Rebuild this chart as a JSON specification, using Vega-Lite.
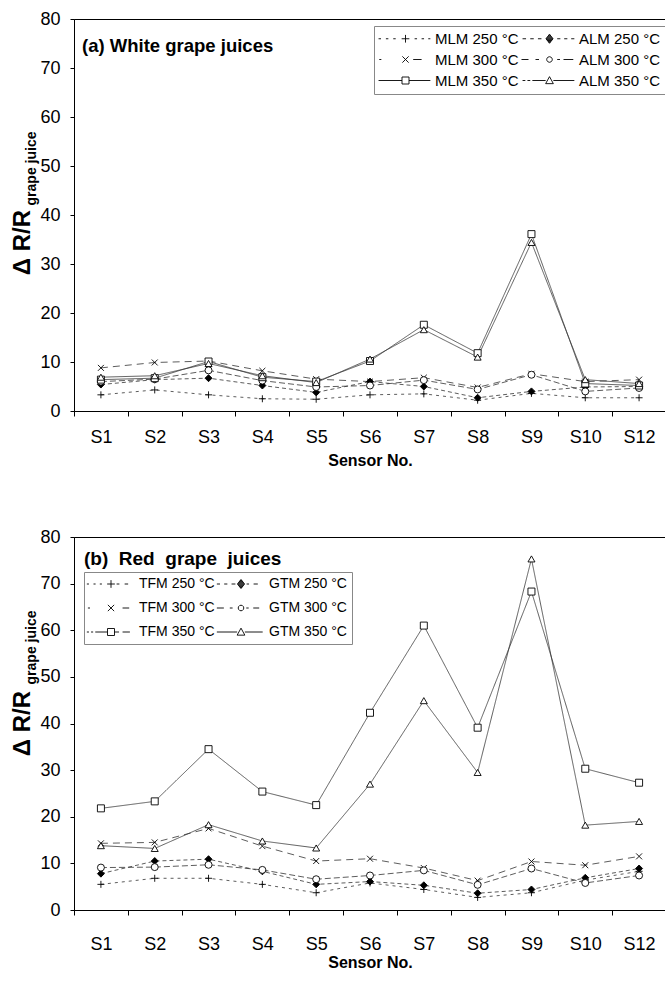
{
  "$schema": "https://vega.github.io/schema/vega-lite/v6.json",
  "padding": {"left": 9, "top": 9, "right": 0, "bottom": 0},
  "spacing": 58,
  "config": {
    "font": "Liberation Sans",
    "view": {"stroke": "black", "strokeWidth": 1},
    "axis": {"grid": false, "domainColor": "black", "tickColor": "black", "labelColor": "black", "titleColor": "black", "labelFont": "Liberation Sans", "titleFont": "Liberation Sans"}
  },
  "datasets": {
    "white": [
      {"sensor": "S1", "series": "MLM 250 °C", "value": 3.3}, {"sensor": "S2", "series": "MLM 250 °C", "value": 4.3}, {"sensor": "S3", "series": "MLM 250 °C", "value": 3.3}, {"sensor": "S4", "series": "MLM 250 °C", "value": 2.5}, {"sensor": "S5", "series": "MLM 250 °C", "value": 2.4}, {"sensor": "S6", "series": "MLM 250 °C", "value": 3.3}, {"sensor": "S7", "series": "MLM 250 °C", "value": 3.5}, {"sensor": "S8", "series": "MLM 250 °C", "value": 2.2}, {"sensor": "S9", "series": "MLM 250 °C", "value": 3.6}, {"sensor": "S10", "series": "MLM 250 °C", "value": 2.7}, {"sensor": "S12", "series": "MLM 250 °C", "value": 2.7},
      {"sensor": "S1", "series": "ALM 250 °C", "value": 5.4}, {"sensor": "S2", "series": "ALM 250 °C", "value": 6.4}, {"sensor": "S3", "series": "ALM 250 °C", "value": 6.7}, {"sensor": "S4", "series": "ALM 250 °C", "value": 5.2}, {"sensor": "S5", "series": "ALM 250 °C", "value": 3.8}, {"sensor": "S6", "series": "ALM 250 °C", "value": 6.0}, {"sensor": "S7", "series": "ALM 250 °C", "value": 5.0}, {"sensor": "S8", "series": "ALM 250 °C", "value": 2.7}, {"sensor": "S9", "series": "ALM 250 °C", "value": 4.0}, {"sensor": "S10", "series": "ALM 250 °C", "value": 4.9}, {"sensor": "S12", "series": "ALM 250 °C", "value": 5.0},
      {"sensor": "S1", "series": "MLM 300 °C", "value": 8.8}, {"sensor": "S2", "series": "MLM 300 °C", "value": 9.9}, {"sensor": "S3", "series": "MLM 300 °C", "value": 10.2}, {"sensor": "S4", "series": "MLM 300 °C", "value": 8.2}, {"sensor": "S5", "series": "MLM 300 °C", "value": 6.5}, {"sensor": "S6", "series": "MLM 300 °C", "value": 6.0}, {"sensor": "S7", "series": "MLM 300 °C", "value": 6.8}, {"sensor": "S8", "series": "MLM 300 °C", "value": 4.8}, {"sensor": "S9", "series": "MLM 300 °C", "value": 7.6}, {"sensor": "S10", "series": "MLM 300 °C", "value": 6.0}, {"sensor": "S12", "series": "MLM 300 °C", "value": 6.4},
      {"sensor": "S1", "series": "ALM 300 °C", "value": 6.0}, {"sensor": "S2", "series": "ALM 300 °C", "value": 6.5}, {"sensor": "S3", "series": "ALM 300 °C", "value": 8.3}, {"sensor": "S4", "series": "ALM 300 °C", "value": 6.2}, {"sensor": "S5", "series": "ALM 300 °C", "value": 4.9}, {"sensor": "S6", "series": "ALM 300 °C", "value": 5.2}, {"sensor": "S7", "series": "ALM 300 °C", "value": 6.3}, {"sensor": "S8", "series": "ALM 300 °C", "value": 4.4}, {"sensor": "S9", "series": "ALM 300 °C", "value": 7.4}, {"sensor": "S10", "series": "ALM 300 °C", "value": 4.0}, {"sensor": "S12", "series": "ALM 300 °C", "value": 4.7},
      {"sensor": "S1", "series": "MLM 350 °C", "value": 6.4}, {"sensor": "S2", "series": "MLM 350 °C", "value": 6.7}, {"sensor": "S3", "series": "MLM 350 °C", "value": 10.1}, {"sensor": "S4", "series": "MLM 350 °C", "value": 6.9}, {"sensor": "S5", "series": "MLM 350 °C", "value": 6.0}, {"sensor": "S6", "series": "MLM 350 °C", "value": 10.2}, {"sensor": "S7", "series": "MLM 350 °C", "value": 17.6}, {"sensor": "S8", "series": "MLM 350 °C", "value": 11.8}, {"sensor": "S9", "series": "MLM 350 °C", "value": 36.1}, {"sensor": "S10", "series": "MLM 350 °C", "value": 5.6}, {"sensor": "S12", "series": "MLM 350 °C", "value": 5.2},
      {"sensor": "S1", "series": "ALM 350 °C", "value": 6.9}, {"sensor": "S2", "series": "ALM 350 °C", "value": 7.2}, {"sensor": "S3", "series": "ALM 350 °C", "value": 9.7}, {"sensor": "S4", "series": "ALM 350 °C", "value": 7.2}, {"sensor": "S5", "series": "ALM 350 °C", "value": 5.8}, {"sensor": "S6", "series": "ALM 350 °C", "value": 10.6}, {"sensor": "S7", "series": "ALM 350 °C", "value": 16.6}, {"sensor": "S8", "series": "ALM 350 °C", "value": 11.0}, {"sensor": "S9", "series": "ALM 350 °C", "value": 34.4}, {"sensor": "S10", "series": "ALM 350 °C", "value": 6.4}, {"sensor": "S12", "series": "ALM 350 °C", "value": 5.6}
    ],
    "red": [
      {"sensor": "S1", "series": "TFM 250 °C", "value": 5.5}, {"sensor": "S2", "series": "TFM 250 °C", "value": 6.8}, {"sensor": "S3", "series": "TFM 250 °C", "value": 6.8}, {"sensor": "S4", "series": "TFM 250 °C", "value": 5.5}, {"sensor": "S5", "series": "TFM 250 °C", "value": 3.7}, {"sensor": "S6", "series": "TFM 250 °C", "value": 5.8}, {"sensor": "S7", "series": "TFM 250 °C", "value": 4.4}, {"sensor": "S8", "series": "TFM 250 °C", "value": 2.7}, {"sensor": "S9", "series": "TFM 250 °C", "value": 3.7}, {"sensor": "S10", "series": "TFM 250 °C", "value": 6.4}, {"sensor": "S12", "series": "TFM 250 °C", "value": 8.3},
      {"sensor": "S1", "series": "GTM 250 °C", "value": 7.8}, {"sensor": "S2", "series": "GTM 250 °C", "value": 10.5}, {"sensor": "S3", "series": "GTM 250 °C", "value": 10.9}, {"sensor": "S4", "series": "GTM 250 °C", "value": 8.3}, {"sensor": "S5", "series": "GTM 250 °C", "value": 5.5}, {"sensor": "S6", "series": "GTM 250 °C", "value": 6.1}, {"sensor": "S7", "series": "GTM 250 °C", "value": 5.3}, {"sensor": "S8", "series": "GTM 250 °C", "value": 3.6}, {"sensor": "S9", "series": "GTM 250 °C", "value": 4.4}, {"sensor": "S10", "series": "GTM 250 °C", "value": 6.9}, {"sensor": "S12", "series": "GTM 250 °C", "value": 8.9},
      {"sensor": "S1", "series": "TFM 300 °C", "value": 14.3}, {"sensor": "S2", "series": "TFM 300 °C", "value": 14.5}, {"sensor": "S3", "series": "TFM 300 °C", "value": 17.5}, {"sensor": "S4", "series": "TFM 300 °C", "value": 13.7}, {"sensor": "S5", "series": "TFM 300 °C", "value": 10.5}, {"sensor": "S6", "series": "TFM 300 °C", "value": 11.0}, {"sensor": "S7", "series": "TFM 300 °C", "value": 9.0}, {"sensor": "S8", "series": "TFM 300 °C", "value": 6.3}, {"sensor": "S9", "series": "TFM 300 °C", "value": 10.4}, {"sensor": "S10", "series": "TFM 300 °C", "value": 9.6}, {"sensor": "S12", "series": "TFM 300 °C", "value": 11.5},
      {"sensor": "S1", "series": "GTM 300 °C", "value": 9.1}, {"sensor": "S2", "series": "GTM 300 °C", "value": 9.2}, {"sensor": "S3", "series": "GTM 300 °C", "value": 9.7}, {"sensor": "S4", "series": "GTM 300 °C", "value": 8.6}, {"sensor": "S5", "series": "GTM 300 °C", "value": 6.6}, {"sensor": "S6", "series": "GTM 300 °C", "value": 7.4}, {"sensor": "S7", "series": "GTM 300 °C", "value": 8.5}, {"sensor": "S8", "series": "GTM 300 °C", "value": 5.4}, {"sensor": "S9", "series": "GTM 300 °C", "value": 8.9}, {"sensor": "S10", "series": "GTM 300 °C", "value": 5.8}, {"sensor": "S12", "series": "GTM 300 °C", "value": 7.4},
      {"sensor": "S1", "series": "TFM 350 °C", "value": 21.8}, {"sensor": "S2", "series": "TFM 350 °C", "value": 23.3}, {"sensor": "S3", "series": "TFM 350 °C", "value": 34.5}, {"sensor": "S4", "series": "TFM 350 °C", "value": 25.4}, {"sensor": "S5", "series": "TFM 350 °C", "value": 22.5}, {"sensor": "S6", "series": "TFM 350 °C", "value": 42.3}, {"sensor": "S7", "series": "TFM 350 °C", "value": 61.0}, {"sensor": "S8", "series": "TFM 350 °C", "value": 39.1}, {"sensor": "S9", "series": "TFM 350 °C", "value": 68.3}, {"sensor": "S10", "series": "TFM 350 °C", "value": 30.3}, {"sensor": "S12", "series": "TFM 350 °C", "value": 27.3},
      {"sensor": "S1", "series": "GTM 350 °C", "value": 13.8}, {"sensor": "S2", "series": "GTM 350 °C", "value": 13.2}, {"sensor": "S3", "series": "GTM 350 °C", "value": 18.3}, {"sensor": "S4", "series": "GTM 350 °C", "value": 14.8}, {"sensor": "S5", "series": "GTM 350 °C", "value": 13.3}, {"sensor": "S6", "series": "GTM 350 °C", "value": 27.0}, {"sensor": "S7", "series": "GTM 350 °C", "value": 44.9}, {"sensor": "S8", "series": "GTM 350 °C", "value": 29.5}, {"sensor": "S9", "series": "GTM 350 °C", "value": 75.3}, {"sensor": "S10", "series": "GTM 350 °C", "value": 18.2}, {"sensor": "S12", "series": "GTM 350 °C", "value": 19.0}
    ]
  },
  "vconcat": [
    {
      "width": 592, "height": 392,
      "data": {"name": "white"},
      "title": {"text": "(a) White grape juices", "anchor": "start", "frame": "group", "offset": -45, "dx": 8, "fontSize": 18.5, "fontWeight": "bold", "font": "Liberation Sans", "color": "black"},
      "resolve": {"scale": {"shape": "independent"}, "axis": {"y": "independent"}},
      "layer": [
        {
          "mark": {"type": "line", "stroke": "#333", "strokeWidth": 0.8},
          "encoding": {
            "x": {"field": "sensor", "type": "nominal", "sort": ["S1","S2","S3","S4","S5","S6","S7","S8","S9","S10","S12"], "scale": {"type": "band", "paddingInner": 0, "paddingOuter": 0},
                  "axis": {"title": "Sensor No.", "titleFontSize": 16, "titleFontWeight": "bold", "labelFontSize": 18, "labelAngle": 0, "tickBand": "extent", "tickSize": 5, "labelPadding": 12, "titlePadding": 6}},
            "y": {"field": "value", "type": "quantitative", "scale": {"domain": [0, 80], "nice": false},
                  "axis": {"title": "Δ R/R", "titleFontSize": 24, "titleFontWeight": "bold", "titleX": -52, "titleY": 223, "titleAlign": "center", "titleBaseline": "middle", "values": [0,10,20,30,40,50,60,70,80], "labelFontSize": 18, "tickSize": 4, "labelPadding": 10}},
            "strokeDash": {"field": "series", "type": "nominal", "scale": {"domain": ["MLM 250 °C","ALM 250 °C","MLM 300 °C","ALM 300 °C","MLM 350 °C","ALM 350 °C"], "range": [[3,4],[4,3],[7,5],[6,3],[1,0],[1,0]]}, "legend": null}
          }
        },
        {
          "mark": {"type": "point", "stroke": "black", "strokeWidth": 0.9, "size": 49, "opacity": 1},
          "encoding": {
            "x": {"field": "sensor", "type": "nominal", "sort": ["S1","S2","S3","S4","S5","S6","S7","S8","S9","S10","S12"],
                  "axis": {"title": "Sensor No.", "titleFontSize": 16, "titleFontWeight": "bold", "labelFontSize": 18, "labelAngle": 0, "tickBand": "extent", "tickSize": 5, "labelPadding": 12, "titlePadding": 6}},
            "y": {"field": "value", "type": "quantitative", "axis": {"orient": "left", "title": "grape juice", "titleFontSize": 14, "titleFontWeight": "bold", "titleX": -43, "titleY": 149, "titleAlign": "center", "titleBaseline": "middle", "labels": false, "ticks": false, "domain": false}},
            "shape": {"field": "series", "type": "nominal", "scale": {"domain": ["MLM 250 °C","ALM 250 °C","MLM 300 °C","ALM 300 °C","MLM 350 °C","ALM 350 °C"], "range": ["M-1,0H1M0,-1V1","diamond","M-0.85,-0.85L0.85,0.85M-0.85,0.85L0.85,-0.85","circle","square","triangle-up"]}, "legend": null},
            "fill": {"field": "series", "type": "nominal", "scale": {"domain": ["MLM 250 °C","ALM 250 °C","MLM 300 °C","ALM 300 °C","MLM 350 °C","ALM 350 °C"], "range": ["white","black","white","white","white","white"]}, "legend": null}
          }
        },
        {
          "mark": {"type": "point", "opacity": 0, "size": 49},
          "encoding": {
            "shape": {"field": "series", "type": "nominal",
              "scale": {"domain": ["MLM 250 °C","ALM 250 °C","MLM 300 °C","ALM 300 °C","MLM 350 °C","ALM 350 °C"],
                "range": [
                  "M-7.7,0H-7M-5.6,0H-4.9M-3.5,0H-2.8M-1.1,0H1.1M0,-1.1V1.1M2.6,0H3.3M4.6,0H5.3M6.5,0H7.1",
                  "M-7.7,0H-6.7M-5.5,0H-4.5M-3.3,0H-2.3M0,-1.3L1,0L0,1.3L-1,0ZM-1,0H1M-0.81,-0.25H0.81M-0.81,0.25H0.81M-0.62,-0.5H0.62M-0.62,0.5H0.62M-0.42,-0.75H0.42M-0.42,0.75H0.42M-0.23,-1H0.23M-0.23,1H0.23M2.2,0H3.1M4.2,0H5.1M6.2,0H7.1",
                  "M-7.5,0H-6.9M-0.9,-0.9L0.9,0.9M-0.9,0.9L0.9,-0.9M2.2,0H4.6",
                  "M-8,0H-6M-4,0H-3M0.8,0L0.69,0.4M0.69,0.4L0.4,0.69M0.4,0.69L0,0.8M0,0.8L-0.4,0.69M-0.4,0.69L-0.69,0.4M-0.69,0.4L-0.8,0M-0.8,0L-0.69,-0.4M-0.69,-0.4L-0.4,-0.69M-0.4,-0.69L0,-0.8M0,-0.8L0.4,-0.69M0.4,-0.69L0.69,-0.4M0.69,-0.4L0.8,0M2.2,0H3M4,0H6.8",
                  "M-7.7,0H-1M1,0H7.1M-1,-1L1,-1M1,-1L1,1M1,1L-1,1M-1,1L-1,-1",
                  "M-7.7,0H-6.9M-6.3,0H-5.5M-4.9,0H-1.1M1.1,0H7.1M0,-1.1L1.1,0.9M1.1,0.9L-1.1,0.9M-1.1,0.9L0,-1.1"
                ]},
              "legend": {"orient": "none", "legendX": 300, "legendY": 7, "columns": 2, "direction": "horizontal", "title": null, "symbolSize": 49, "symbolStrokeWidth": 0.9, "symbolStrokeColor": "black", "symbolOpacity": 1, "symbolOffset": 19, "labelOffset": 22, "columnPadding": 0, "rowPadding": 5, "padding": 5, "strokeColor": "#888", "labelFontSize": 15, "labelFont": "Liberation Sans", "labelColor": "black", "labelLimit": 200}
            }
          }
        }
      ]
    },
    {
      "width": 592, "height": 373,
      "data": {"name": "red"},
      "title": {"text": "(b)\u00a0 Red\u00a0 grape\u00a0 juices", "anchor": "start", "frame": "group", "offset": -41, "dx": 10, "fontSize": 19, "fontWeight": "bold", "font": "Liberation Sans", "color": "black"},
      "resolve": {"scale": {"shape": "independent"}, "axis": {"y": "independent"}},
      "layer": [
        {
          "mark": {"type": "line", "stroke": "#333", "strokeWidth": 0.8},
          "encoding": {
            "x": {"field": "sensor", "type": "nominal", "sort": ["S1","S2","S3","S4","S5","S6","S7","S8","S9","S10","S12"], "scale": {"type": "band", "paddingInner": 0, "paddingOuter": 0},
                  "axis": {"title": "Sensor No.", "titleFontSize": 16, "titleFontWeight": "bold", "labelFontSize": 18, "labelAngle": 0, "tickBand": "extent", "tickSize": 5, "labelPadding": 20, "titlePadding": 1}},
            "y": {"field": "value", "type": "quantitative", "scale": {"domain": [0, 80], "nice": false},
                  "axis": {"title": "Δ R/R", "titleFontSize": 24, "titleFontWeight": "bold", "titleX": -52, "titleY": 186, "titleAlign": "center", "titleBaseline": "middle", "values": [0,10,20,30,40,50,60,70,80], "labelFontSize": 18, "tickSize": 4, "labelPadding": 10}},
            "strokeDash": {"field": "series", "type": "nominal", "scale": {"domain": ["TFM 250 °C","GTM 250 °C","TFM 300 °C","GTM 300 °C","TFM 350 °C","GTM 350 °C"], "range": [[3,4],[4,3],[7,5],[6,3],[1,0],[1,0]]}, "legend": null}
          }
        },
        {
          "mark": {"type": "point", "stroke": "black", "strokeWidth": 0.9, "size": 49, "opacity": 1},
          "encoding": {
            "x": {"field": "sensor", "type": "nominal", "sort": ["S1","S2","S3","S4","S5","S6","S7","S8","S9","S10","S12"],
                  "axis": {"title": "Sensor No.", "titleFontSize": 16, "titleFontWeight": "bold", "labelFontSize": 18, "labelAngle": 0, "tickBand": "extent", "tickSize": 5, "labelPadding": 20, "titlePadding": 1}},
            "y": {"field": "value", "type": "quantitative", "axis": {"orient": "left", "title": "grape juice", "titleFontSize": 14, "titleFontWeight": "bold", "titleX": -43, "titleY": 110, "titleAlign": "center", "titleBaseline": "middle", "labels": false, "ticks": false, "domain": false}},
            "shape": {"field": "series", "type": "nominal", "scale": {"domain": ["TFM 250 °C","GTM 250 °C","TFM 300 °C","GTM 300 °C","TFM 350 °C","GTM 350 °C"], "range": ["M-1,0H1M0,-1V1","diamond","M-0.85,-0.85L0.85,0.85M-0.85,0.85L0.85,-0.85","circle","square","triangle-up"]}, "legend": null},
            "fill": {"field": "series", "type": "nominal", "scale": {"domain": ["TFM 250 °C","GTM 250 °C","TFM 300 °C","GTM 300 °C","TFM 350 °C","GTM 350 °C"], "range": ["white","black","white","white","white","white"]}, "legend": null}
          }
        },
        {
          "mark": {"type": "point", "opacity": 0, "size": 49},
          "encoding": {
            "shape": {"field": "series", "type": "nominal",
              "scale": {"domain": ["TFM 250 °C","GTM 250 °C","TFM 300 °C","GTM 300 °C","TFM 350 °C","GTM 350 °C"],
                "range": [
                  "M-6.9,0H-6.3M-5,0H-4.4M-3.2,0H-2.6M-1.1,0H1.1M0,-1.1V1.1M1.6,0H2.4M3.9,0H4.9",
                  "M-6.9,0H-6M-4.8,0H-3.9M-2.7,0H-1.6M0,-1.3L1,0L0,1.3L-1,0ZM-1,0H1M-0.81,-0.25H0.81M-0.81,0.25H0.81M-0.62,-0.5H0.62M-0.62,0.5H0.62M-0.42,-0.75H0.42M-0.42,0.75H0.42M-0.23,-1H0.23M-0.23,1H0.23M1.6,0H2.3M3.6,0H4.8",
                  "M-6.6,0H-6M-0.9,-0.9L0.9,0.9M-0.9,0.9L0.9,-0.9M3.3,0H5.2",
                  "M-6.9,0H-4.9M-3.2,0H-2.4M0.8,0L0.69,0.4M0.69,0.4L0.4,0.69M0.4,0.69L0,0.8M0,0.8L-0.4,0.69M-0.4,0.69L-0.69,0.4M-0.69,0.4L-0.8,0M-0.8,0L-0.69,-0.4M-0.69,-0.4L-0.4,-0.69M-0.4,-0.69L0,-0.8M0,-0.8L0.4,-0.69M0.4,-0.69L0.69,-0.4M0.69,-0.4L0.8,0M1.5,0H2.2M3.5,0H5.2",
                  "M-6.9,0H-6.3M-5.7,0H-5.1M-4.5,0H-1M1,0H2.3M3.3,0H5.4M-1,-1L1,-1M1,-1L1,1M1,1L-1,1M-1,1L-1,-1",
                  "M-6.9,0H-1.1M1.1,0H6.2M0,-1.1L1.1,0.9M1.1,0.9L-1.1,0.9M-1.1,0.9L0,-1.1"
                ]},
              "legend": {"orient": "none", "legendX": 10, "legendY": 35, "columns": 2, "direction": "horizontal", "title": null, "symbolSize": 49, "symbolStrokeWidth": 0.9, "symbolStrokeColor": "black", "symbolOpacity": 1, "symbolOffset": 15, "labelOffset": 21, "columnPadding": 0, "rowPadding": 10, "padding": 5, "strokeColor": "#888", "labelFontSize": 14, "labelFont": "Liberation Sans", "labelColor": "black", "labelLimit": 200}
            }
          }
        }
      ]
    }
  ]
}
